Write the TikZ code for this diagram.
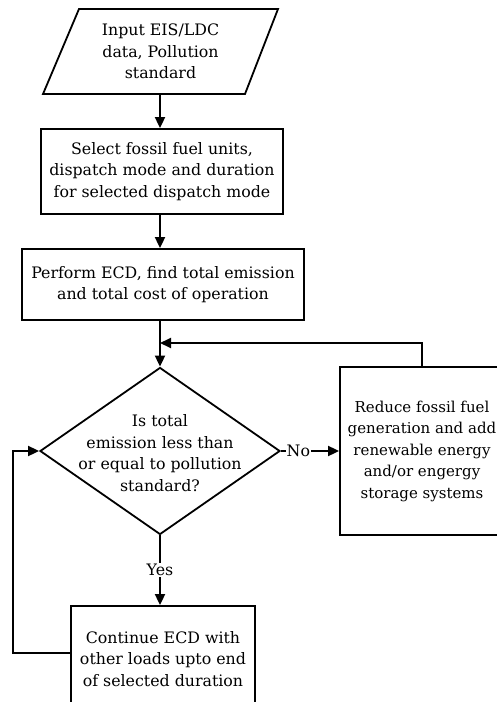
\documentclass[tikz,border=0pt]{standalone}
\usepackage{fontspec}
\setmainfont{DejaVu Serif}
\usepackage{tikz}
\usetikzlibrary{positioning,shapes.geometric,arrows.meta,calc}

\begin{document}
\begin{tikzpicture}[x=1pt,y=-1pt,
    every node/.style={font=\fontsize{15.8}{21.5}\selectfont,align=center},
    box/.style={draw,line width=1.8pt,inner sep=0pt},
    decision/.style={draw,line width=1.8pt,diamond,inner sep=0pt},
    arr/.style={line width=1.8pt,-{Triangle[length=11pt,width=10pt]}},
    lbl/.style={fill=white,inner sep=1pt}]
  \useasboundingbox (0,0) rectangle (497,702);
  % blocks
  \draw[line width=1.8pt] (79,9) -- (278,9) -- (245,94) -- (43,94) -- cycle;
  \node[minimum height=85] (input) at (160.5,51.5) {Input EIS/LDC\\data, Pollution\\standard};
  \node[box,minimum width=242,minimum height=85] (select) at (162,171.5)
    {Select fossil fuel units,\\dispatch mode and duration\\for selected dispatch mode};
  \node[box,minimum width=282,minimum height=71] (ecd) at (163,284.5)
    {Perform ECD, find total emission\\and total cost of operation};
  \node[decision,minimum width=240,minimum height=167] (check) at (160,451) {};
  \node (checktxt) at (160,453) {Is total\\emission less than\\or equal to pollution\\standard?};
  \node[box,minimum width=164,minimum height=168,font=\fontsize{15}{21.5}\selectfont]
    (reduce) at (422,451)
    {Reduce fossil fuel\\generation and add\\renewable energy\\and/or engergy\\storage systems};
  \node[box,minimum width=184,minimum height=106] (cont) at (163,659)
    {Continue ECD with\\other loads upto end\\of selected duration};
  % connectors
  \coordinate (merge) at (160,343);
  \coordinate (back) at (13,451);
  \draw[arr] (input.south -| check.north) -- (select.north -| check.north);
  \draw[arr] (select.south -| check.north) -- (ecd.north -| check.north);
  \draw[arr] (ecd.south -| check.north) -- (check.north);
  \draw[arr] (reduce.north) |- (merge);
  \draw[arr] (check.east) -- node[lbl,pos=0.3] {No} (reduce.west);
  \draw[arr] (check.south) -- node[lbl] {Yes} (cont.north -| check.south);
  \draw[arr] ([yshift=6pt]cont.west) -| (back) -- (check.west);
\end{tikzpicture}
\end{document}
